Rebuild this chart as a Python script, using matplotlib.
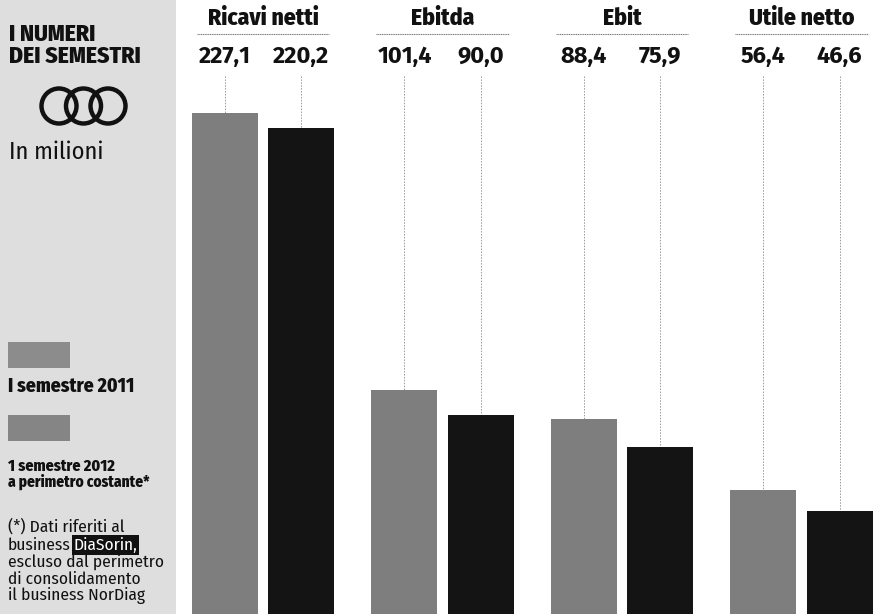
import numpy as np
import matplotlib.pyplot as plt
from matplotlib.patches import Rectangle, Circle
from matplotlib.transforms import blended_transform_factory

# dati semestrali (milioni di euro)
categorie = ['Ricavi netti', 'Ebitda', 'Ebit', 'Utile netto']
sem_2011 = [227.1, 101.4, 88.4, 56.4]
sem_2012 = [220.2, 90.0, 75.9, 46.6]
legenda = ['I semestre 2011', '1 semestre 2012', 'a perimetro costante*']
nota = ['(*) Dati riferiti al', 'business', 'escluso dal perimetro',
        'di consolidamento', 'il business NorDiag']

W, H = 888, 614
GRIGIO = '#7e7e7e'
NERO = '#141414'
TESTO = '#111111'

plt.rcParams['font.family'] = ['Fira Sans Condensed', 'DejaVu Sans']

fig = plt.figure(figsize=(W / 100, H / 100), dpi=100)
fig.patch.set_facecolor('white')

# ---- colonna sinistra (sfondo grigio, coordinate in pixel) ----
lax = fig.add_axes([0, 0, 176 / W, 1])
lax.set_facecolor('#dedede')
for s in lax.spines.values():
    s.set_visible(False)
lax.set_xticks([])
lax.set_yticks([])
lax.set_xlim(0, 176)
lax.set_ylim(H, 0)

# ---- grafico a barre ----
ax = fig.add_axes([0, 0, 1, 1])
ax.patch.set_alpha(0)
ax.axis('off')
step = 179.5                # pixel tra un gruppo e l'altro
x0 = 263                    # centro del primo gruppo
ax.set_xlim(-x0 / step, (W - x0) / step)
ax.set_ylim(0, H / 2.206)

x = np.arange(len(categorie))
w = 0.368
off = 0.212
ax.bar(x - off, sem_2011, w, color=GRIGIO, zorder=2)
ax.bar(x + off, sem_2012, w, color=NERO, zorder=2)

tr = blended_transform_factory(ax.transData, ax.transAxes)
ytop = ax.get_ylim()[1]

for i, cat in enumerate(categorie):
    ax.text(x[i], 1 - 18 / H, cat, transform=tr, ha='center', va='center',
            fontsize=17, fontweight='heavy', color=TESTO)
    ax.plot([x[i] - 0.37, x[i] + 0.37], [1 - 34 / H] * 2, transform=tr,
            color='#777777', lw=0.8, ls=(0, (1, 0.6)))
    for xpos, v in ((x[i] - off, sem_2011[i]), (x[i] + off, sem_2012[i])):
        ax.text(xpos, 1 - 56 / H, f'{v:.1f}'.replace('.', ','), transform=tr,
                ha='center', va='center', fontsize=17, fontweight='bold',
                family=['Fira Sans', 'DejaVu Sans'], color=TESTO)
        ax.plot([xpos, xpos], [ytop * (1 - 76 / H), v], color='#999999',
                lw=0.7, ls=(0, (1.5, 1.5)), zorder=1)


def px(xp, yp):
    return xp / W, 1 - yp / H


fig.text(*px(9, 34), 'I NUMERI', fontsize=17, fontweight='heavy',
         va='center', color=TESTO)
fig.text(*px(9, 56), 'DEI SEMESTRI', fontsize=17, fontweight='heavy',
         va='center', color=TESTO)

# logo a tre anelli
for cx in (59, 83.5, 108):
    lax.add_patch(Circle((cx, 106), 17.5, fill=False, lw=3.2, ec=TESTO))

fig.text(*px(9, 152), 'In milioni', fontsize=17.5, va='center', color=TESTO)

# legenda
lax.add_patch(Rectangle((8, 342), 62, 26, facecolor='#8c8c8c', edgecolor='none'))
lax.add_patch(Rectangle((8, 415), 62, 26, facecolor='#858585', edgecolor='none'))
fig.text(*px(8, 386), legenda[0], fontsize=14, fontweight='heavy',
         va='center', color=TESTO)
fig.text(*px(8, 466), legenda[1], fontsize=11.5, fontweight='heavy',
         va='center', color=TESTO)
fig.text(*px(8, 482), legenda[2], fontsize=11, fontweight='heavy',
         va='center', color=TESTO)

# nota
for yp, riga in zip([527, 545, 562, 579, 596], nota):
    t = fig.text(*px(8, yp), riga, fontsize=12.5, va='center', color=TESTO)
    if riga == 'business':
        lax.annotate('DiaSorin,', xy=(1, 0.5), xycoords=t,
                     xytext=(2, 0), textcoords='offset points',
                     ha='left', va='center', fontsize=12.5, color='white',
                     bbox=dict(boxstyle='square,pad=0.1', fc=TESTO, ec='none'))

fig.savefig('out.png', dpi=100)
